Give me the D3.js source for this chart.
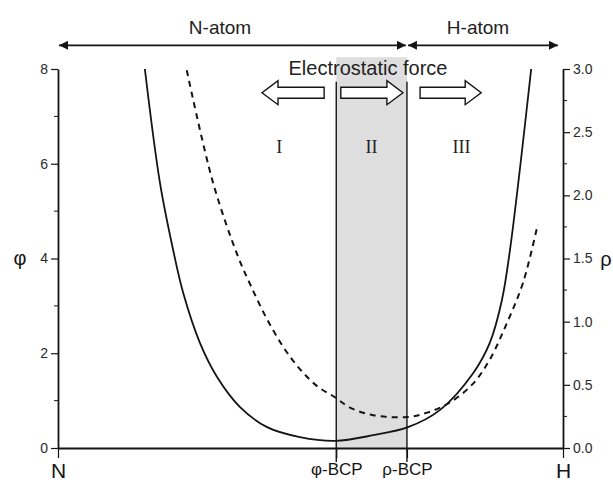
<!DOCTYPE html>
<html>
<head>
<meta charset="utf-8">
<script src="https://cdn.jsdelivr.net/npm/d3@7"></script>
<style>
  html, body { margin: 0; padding: 0; background: #fff; }
  svg { display: block; font-family: "Liberation Sans", Arial, sans-serif; }
</style>
</head>
<body>
<svg id="chart" width="613" height="485"></svg>
<script>
// Position along the N–H bond, normalised: N = 0, H = 1
const phiPos = [0.172, 0.202, 0.228, 0.248, 0.281, 0.315, 0.360, 0.414, 0.479, 0.549, 0.624, 0.693, 0.756, 0.822, 0.855, 0.879, 0.895, 0.937];
const phiVal = [8.0, 5.59, 4.18, 3.27, 2.22, 1.50, 0.87, 0.44, 0.23, 0.15, 0.27, 0.44, 0.80, 1.58, 2.22, 3.12, 4.18, 8.0];

const rhoPos = [0.255, 0.307, 0.356, 0.380, 0.410, 0.446, 0.479, 0.513, 0.549, 0.578, 0.624, 0.691, 0.731, 0.776, 0.822, 0.855, 0.889, 0.921, 0.950];
const rhoVal = [2.99, 2.10, 1.52, 1.30, 1.05, 0.80, 0.625, 0.49, 0.40, 0.32, 0.26, 0.245, 0.28, 0.36, 0.51, 0.70, 0.99, 1.31, 1.77];

// Bond-axis tick marks and their labels
const xTickPos = [0, 0.551, 0.691, 1];
const xTickLabels = ["N", "φ-BCP", "ρ-BCP", "H"];

// Left (φ) and right (ρ) axis ticks
const phiTicks = [0, 2, 4, 6, 8];
const phiMinor = [1, 3, 5, 7];
const rhoTicks = [0, 0.5, 1.0, 1.5, 2.0, 2.5, 3.0];
const rhoMinor = [0.25, 0.75, 1.25, 1.75, 2.25, 2.75];

// Regions between the critical points
const regionLabels = ["I", "II", "III"];
const regionPos = [0.438, 0.621, 0.799];

// Electrostatic force arrows: [tail, head]
const forceArrows = [[0.527, 0.404], [0.560, 0.683], [0.717, 0.838]];

// Atom basins above the plot: [from, to, label]
const basins = [[0.002, 0.689, "N-atom"], [0.693, 0.990, "H-atom"]];

const svg = d3.select("#chart");

const x = d3.scaleLinear().domain([0, 1]).range([58, 563]);
const yPhi = d3.scaleLinear().domain([0, 8]).range([448, 69]);
const yRho = d3.scaleLinear().domain([0, 3]).range([448, 69]);

const ink = "#141414";

// Shaded band between φ-BCP and ρ-BCP
svg.append("rect")
  .attr("x", x(xTickPos[1]))
  .attr("y", yPhi(8.25))
  .attr("width", x(xTickPos[2]) - x(xTickPos[1]))
  .attr("height", yPhi(0) - yPhi(8.25))
  .attr("fill", "#dedede");

// Vertical lines at the critical points
[xTickPos[1], xTickPos[2]].forEach(p => {
  svg.append("line")
    .attr("x1", x(p)).attr("x2", x(p))
    .attr("y1", yPhi(7.73)).attr("y2", yPhi(0) + 14)
    .attr("stroke", ink).attr("stroke-width", 1.4);
});

// Left axis
const gL = svg.append("g").attr("transform", `translate(${x(0)},0)`);
gL.call(d3.axisLeft(yPhi).tickValues(phiTicks).tickSize(7).tickSizeOuter(0).tickPadding(3).tickFormat(d3.format("d")));
gL.selectAll(".minor").data(phiMinor).enter().append("line")
  .attr("x1", -4).attr("x2", 0)
  .attr("y1", d => yPhi(d)).attr("y2", d => yPhi(d))
  .attr("stroke", ink);

// Right axis
const gR = svg.append("g").attr("transform", `translate(${x(1)},0)`);
gR.call(d3.axisRight(yRho).tickValues(rhoTicks).tickSize(7).tickSizeOuter(0).tickPadding(3).tickFormat(d3.format(".1f")));
gR.selectAll(".minor").data(rhoMinor).enter().append("line")
  .attr("x1", 0).attr("x2", 4)
  .attr("y1", d => yRho(d)).attr("y2", d => yRho(d))
  .attr("stroke", ink);

// Bottom axis
const gB = svg.append("g").attr("transform", `translate(0,${yPhi(0)})`);
gB.call(d3.axisBottom(x).tickValues(xTickPos).tickSize(10).tickSizeOuter(0).tickPadding(5)
  .tickFormat((d, i) => xTickLabels[i]));

[gL, gR, gB].forEach(g => {
  g.attr("font-family", null);
  g.select(".domain").attr("stroke", ink).attr("stroke-width", 1.8);
  g.selectAll(".tick line").attr("stroke", ink).attr("stroke-width", 1.2);
});
gL.selectAll(".tick text").style("font-size", "14px").attr("fill", "#2a2a2a");
gR.selectAll(".tick text").style("font-size", "14px").attr("fill", "#2a2a2a");
gB.selectAll(".tick text").attr("fill", ink)
  .style("font-size", (d, i) => (i === 0 || i === 3) ? "21px" : "17px");

// Axis titles
svg.append("text").attr("x", 20).attr("y", yPhi(4) + 6)
  .attr("text-anchor", "middle").attr("font-size", 20).attr("fill", ink).text("φ");
svg.append("text").attr("x", 606).attr("y", yRho(1.5) + 7)
  .attr("text-anchor", "middle").attr("font-size", 20).attr("fill", ink).text("ρ");

// Curves
const phiData = phiPos.map((p, i) => [p, phiVal[i]]);
const rhoData = rhoPos.map((p, i) => [p, rhoVal[i]]);

svg.append("path")
  .datum(phiData)
  .attr("fill", "none").attr("stroke", ink).attr("stroke-width", 1.8)
  .attr("d", d3.line().x(d => x(d[0])).y(d => yPhi(d[1])).curve(d3.curveCatmullRom.alpha(0.5)));

svg.append("path")
  .datum(rhoData)
  .attr("fill", "none").attr("stroke", ink).attr("stroke-width", 2)
  .attr("stroke-dasharray", "6,5")
  .attr("d", d3.line().x(d => x(d[0])).y(d => yRho(d[1])).curve(d3.curveCatmullRom.alpha(0.5)));

// Basin arrows and labels
const defs = svg.append("defs");
defs.append("marker").attr("id", "tip")
  .attr("viewBox", "0 0 10 10").attr("refX", 10).attr("refY", 5)
  .attr("markerWidth", 9).attr("markerHeight", 9).attr("markerUnits", "userSpaceOnUse")
  .attr("orient", "auto-start-reverse")
  .append("path").attr("d", "M0,0 L10,5 L0,10 Z").attr("fill", ink);

const basinY = yPhi(8.5);
basins.forEach(([a, b, label]) => {
  svg.append("line")
    .attr("x1", x(a)).attr("x2", x(b)).attr("y1", basinY).attr("y2", basinY)
    .attr("stroke", ink).attr("stroke-width", 1.8)
    .attr("marker-start", "url(#tip)").attr("marker-end", "url(#tip)");
  svg.append("text")
    .attr("x", label === "N-atom" ? 220 : 478).attr("y", 34)
    .attr("text-anchor", "middle").attr("font-size", 19).attr("fill", "#222")
    .text(label);
});

// Electrostatic force annotation
svg.append("text").attr("x", 368).attr("y", 75)
  .attr("text-anchor", "middle").attr("font-size", 20).attr("fill", "#222")
  .text("Electrostatic force");

const arrowY = yPhi(7.5);
const bodyH = 5.5, headH = 12, headL = 16;
forceArrows.forEach(([tail, head]) => {
  const x0 = x(tail), x1 = x(head);
  const dir = Math.sign(x1 - x0);
  const xb = x1 - dir * headL;
  const pts = [
    [x0, arrowY - bodyH], [xb, arrowY - bodyH], [xb, arrowY - headH],
    [x1, arrowY], [xb, arrowY + headH], [xb, arrowY + bodyH], [x0, arrowY + bodyH]
  ];
  svg.append("path")
    .attr("d", d3.line()(pts) + "Z")
    .attr("fill", "#fff").attr("stroke", ink).attr("stroke-width", 1.4)
    .attr("stroke-linejoin", "miter");
});

// Region numerals
svg.selectAll(".region").data(regionLabels).enter().append("text")
  .attr("x", (d, i) => x(regionPos[i])).attr("y", 153)
  .attr("text-anchor", "middle")
  .attr("font-family", "'Liberation Serif', 'Times New Roman', serif")
  .attr("font-size", 18).attr("fill", "#222")
  .text(d => d);
</script>
</body>
</html>
